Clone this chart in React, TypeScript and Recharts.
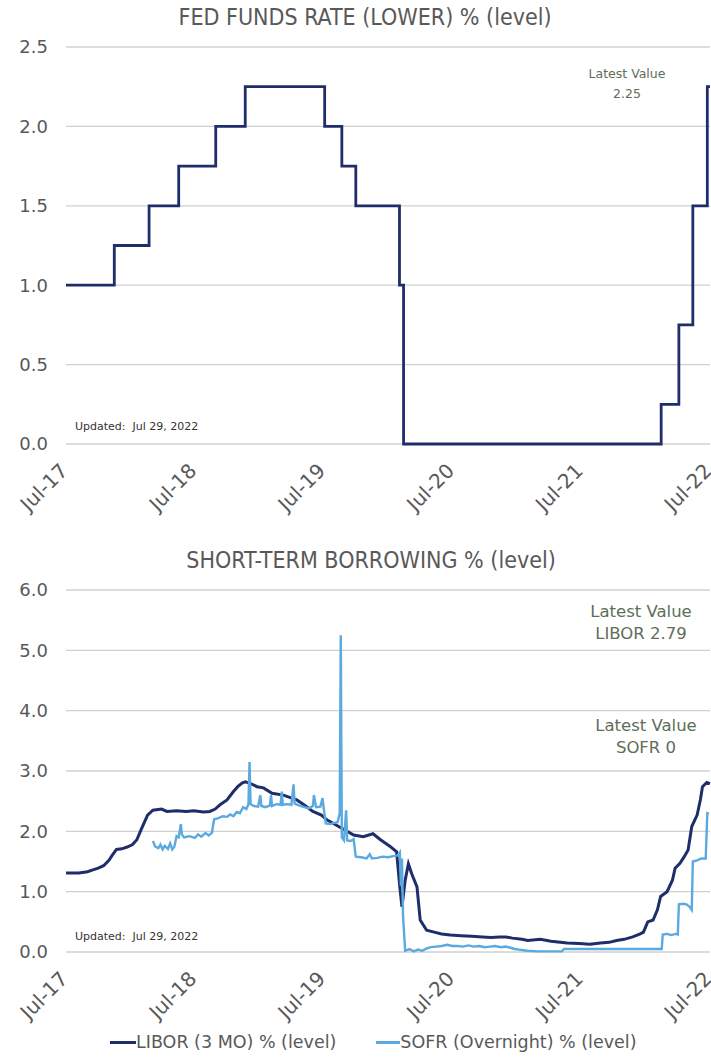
import React from "react";
import { CartesianGrid, Line, LineChart, XAxis, YAxis } from "recharts";

// x = months since Jul 29, 2017
const yearTicks = [0, 12, 24, 36, 48, 60];
const yearLabels = ["Jul-17", "Jul-18", "Jul-19", "Jul-20", "Jul-21", "Jul-22"];

const fedTicks = [0, 0.5, 1, 1.5, 2, 2.5];
const borrowTicks = [0, 1, 2, 3, 4, 5, 6];

const fedFunds: [number, number][] = [
  [0, 1.0], [4.5, 1.25], [7.74, 1.5], [10.5, 1.75], [13.95, 2.0], [16.7, 2.25],
  [24.1, 2.0], [25.7, 1.75], [27.0, 1.5], [31.07, 1.0], [31.45, 0.0],
  [55.45, 0.25], [57.1, 0.75], [58.4, 1.5], [59.75, 2.25], [60, 2.25],
];

const libor: [number, number][] = [
  [0, 1.31], [1.2, 1.31], [2, 1.33], [2.5, 1.36], [3, 1.39], [3.5, 1.43], [4, 1.52],
  [4.3, 1.6], [4.7, 1.7], [5.2, 1.71], [5.7, 1.74], [6.2, 1.78], [6.6, 1.86],
  [7.05, 2.05], [7.6, 2.27], [8.1, 2.35], [8.9, 2.37], [9.4, 2.33], [10.3, 2.34],
  [11.2, 2.33], [11.9, 2.34], [12.8, 2.32], [13.4, 2.33], [13.9, 2.37], [14.35, 2.44],
  [15, 2.52], [15.6, 2.66], [16.0, 2.74], [16.4, 2.8], [16.7, 2.82], [17.2, 2.79],
  [17.8, 2.74], [18.4, 2.72], [19.2, 2.63], [20.25, 2.6], [21.5, 2.52], [22.1, 2.45],
  [23, 2.33], [23.8, 2.27], [24.3, 2.19], [25.2, 2.1], [26, 2.02], [26.8, 1.94],
  [27.7, 1.91], [28.6, 1.96], [29.3, 1.86], [30.2, 1.75], [30.8, 1.66], [31.1, 1.08],
  [31.3, 0.75], [31.6, 1.19], [31.9, 1.46], [32.2, 1.3], [32.7, 1.08], [33.0, 0.53],
  [33.6, 0.36], [34.3, 0.33], [35.0, 0.3], [35.8, 0.28], [36.8, 0.27], [37.8, 0.26],
  [38.8, 0.25], [39.6, 0.24], [40.4, 0.25], [41.0, 0.25], [41.6, 0.23], [42.5, 0.21],
  [43.0, 0.19], [44.2, 0.21], [45.2, 0.18], [46.7, 0.15], [47.8, 0.14], [48.8, 0.13],
  [49.8, 0.15], [50.6, 0.16], [51.3, 0.19], [52.0, 0.21], [52.8, 0.25], [53.5, 0.3],
  [53.8, 0.33], [54.2, 0.5], [54.7, 0.53], [55.1, 0.7], [55.4, 0.92], [56.0, 1.0],
  [56.5, 1.19], [56.75, 1.39], [57.2, 1.47], [57.6, 1.58], [57.96, 1.69], [58.3, 2.08],
  [58.8, 2.27], [59.1, 2.52], [59.3, 2.74], [59.7, 2.81], [60, 2.79],
];

const sofr: [number, number][] = [
  [8.1, 1.84], [8.3, 1.75], [8.6, 1.72], [8.8, 1.78], [9.0, 1.7], [9.2, 1.76],
  [9.5, 1.71], [9.7, 1.8], [9.9, 1.7], [10.1, 1.75], [10.3, 1.92], [10.5, 1.9],
  [10.7, 2.12], [10.8, 1.95], [11.0, 1.9], [11.5, 1.92], [12, 1.89], [12.3, 1.95],
  [12.6, 1.91], [13.0, 1.97], [13.3, 1.93], [13.6, 1.98], [13.8, 2.2], [14.2, 2.22],
  [14.6, 2.25], [15.0, 2.24], [15.3, 2.28], [15.6, 2.25], [15.9, 2.32], [16.2, 2.3],
  [16.5, 2.4], [16.8, 2.37], [17.0, 2.45], [17.1, 3.15], [17.2, 2.45], [17.5, 2.42],
  [17.9, 2.41], [18.1, 2.6], [18.2, 2.42], [18.6, 2.4], [19.0, 2.43], [19.1, 2.6],
  [19.2, 2.42], [19.6, 2.45], [20.0, 2.44], [20.1, 2.66], [20.2, 2.44], [20.6, 2.45],
  [21.0, 2.44], [21.2, 2.78], [21.3, 2.46], [21.7, 2.43], [22.2, 2.4], [22.6, 2.38],
  [23.0, 2.42], [23.1, 2.6], [23.3, 2.4], [23.7, 2.41], [23.9, 2.55], [24.0, 2.4],
  [24.2, 2.13], [24.6, 2.12], [25.0, 2.14], [25.3, 2.15], [25.5, 2.3], [25.6, 5.25],
  [25.7, 1.9], [25.9, 1.85], [26.1, 2.35], [26.2, 1.85], [26.5, 1.84], [26.8, 1.87],
  [27.0, 1.58], [27.5, 1.57], [28.0, 1.55], [28.3, 1.62], [28.5, 1.55], [29.0, 1.56],
  [29.5, 1.58], [30.0, 1.57], [30.5, 1.59], [30.9, 1.6], [31.1, 1.65], [31.2, 1.1],
  [31.3, 1.55], [31.4, 0.6], [31.6, 0.02], [32.0, 0.05], [32.4, 0.01], [32.8, 0.04],
  [33.2, 0.02], [33.6, 0.06], [34.0, 0.08], [34.5, 0.09], [35.0, 0.1], [35.5, 0.12],
  [36.0, 0.1], [36.5, 0.1], [37.0, 0.09], [37.5, 0.11], [38.0, 0.09], [38.5, 0.1],
  [39.0, 0.08], [39.5, 0.09], [40.0, 0.1], [40.5, 0.08], [41.0, 0.09], [41.4, 0.07],
  [41.8, 0.05], [42.2, 0.04], [42.6, 0.03], [43.0, 0.02], [44.0, 0.01], [45.0, 0.01],
  [46.2, 0.01], [46.4, 0.05], [48, 0.05], [50, 0.05], [52, 0.05], [54, 0.05],
  [55.5, 0.05], [55.6, 0.29], [56.0, 0.3], [56.4, 0.28], [56.8, 0.3], [57.0, 0.29],
  [57.1, 0.79], [57.5, 0.8], [57.8, 0.79], [58.1, 0.75], [58.3, 0.7], [58.4, 1.5],
  [58.8, 1.52], [59.2, 1.55], [59.6, 1.55], [59.75, 2.3], [59.9, 2.29],
];

const FONT = "Verdana, 'DejaVu Sans', sans-serif";
const TITLE_FONT = "'DejaVu Sans Condensed', 'Liberation Sans Narrow', sans-serif";
const NAVY = "#1f2d6b";
const SKY = "#5aaae0";
const GREY = "#595959";
const NOTE = "#5e6e58";
const GRID = "#d0d0d0";

const fedRows = fedFunds.map(([m, v]) => ({ m, rate: v }));

const borrowRows = (() => {
  const map = new Map<number, { m: number; libor: number | null; sofr: number | null }>();
  for (const [m, v] of libor) {
    const row = map.get(m) ?? { m, libor: null, sofr: null };
    row.libor = v;
    map.set(m, row);
  }
  for (const [m, v] of sofr) {
    const row = map.get(m) ?? { m, libor: null, sofr: null };
    row.sofr = v;
    map.set(m, row);
  }
  return [...map.values()].sort((a, b) => a.m - b.m);
})();

function DateTick(props: any) {
  const { x, y, payload } = props;
  const label = yearLabels[yearTicks.indexOf(payload.value)];
  const ax = x + 3;
  const ay = y + 28;
  return (
    <text
      x={ax}
      y={ay}
      transform={`rotate(-45, ${ax}, ${ay})`}
      textAnchor="end"
      fill={GREY}
      fontSize={20}
      fontFamily={FONT}
    >
      {label}
    </text>
  );
}

const abs = (left: number, top: number): React.CSSProperties => ({
  position: "absolute",
  left,
  top,
});

export default function App() {
  return (
    <div
      style={{
        position: "absolute",
        left: 0,
        top: 0,
        width: 711,
        height: 1057,
        background: "#fff",
        overflow: "hidden",
        fontFamily: FONT,
      }}
    >
      {/* Fed funds */}
      <div style={{ ...abs(165, 4), width: 400, textAlign: "center", fontFamily: TITLE_FONT, fontSize: 23, color: GREY, lineHeight: "26px" }}>
        FED FUNDS RATE (LOWER) % (level)
      </div>
      <div style={abs(0, 0)}>
        <LineChart width={711} height={530} data={fedRows} margin={{ top: 47, right: 1, left: 0, bottom: 0 }}>
          <CartesianGrid vertical={false} stroke={GRID} strokeWidth={1.3} />
          <XAxis
            dataKey="m"
            type="number"
            domain={[0, 60]}
            ticks={yearTicks}
            axisLine={false}
            tickLine={false}
            tickSize={0}
            tickMargin={0}
            height={86}
            tick={<DateTick />}
            interval={0}
          />
          <YAxis
            type="number"
            domain={[0, 2.5]}
            ticks={fedTicks}
            width={66}
            axisLine={false}
            tickLine={false}
            tickSize={0}
            tickMargin={18}
            tickFormatter={(v: number) => v.toFixed(1)}
            tick={{ fill: GREY, fontSize: 18, fontFamily: FONT }}
          />
          <Line
            type="stepAfter"
            dataKey="rate"
            stroke={NAVY}
            strokeWidth={2.8}
            dot={false}
            isAnimationActive={false}
          />
        </LineChart>
      </div>
      <div style={{ ...abs(567, 64), width: 120, textAlign: "center", fontSize: 12.5, color: NOTE, lineHeight: "20px" }}>
        Latest Value
        <br />
        2.25
      </div>
      <div style={{ ...abs(75, 420), fontSize: 11, color: "#333", whiteSpace: "pre" }}>Updated:  Jul 29, 2022</div>

      {/* Short-term borrowing */}
      <div style={{ ...abs(171, 547), width: 400, textAlign: "center", fontFamily: TITLE_FONT, fontSize: 23, color: GREY, lineHeight: "26px" }}>
        SHORT-TERM BORROWING % (level)
      </div>
      <div style={abs(0, 530)}>
        <LineChart width={711} height={527} data={borrowRows} margin={{ top: 60, right: 1, left: 0, bottom: 0 }}>
          <CartesianGrid vertical={false} stroke={GRID} strokeWidth={1.3} />
          <XAxis
            dataKey="m"
            type="number"
            domain={[0, 60]}
            ticks={yearTicks}
            axisLine={false}
            tickLine={false}
            tickSize={0}
            tickMargin={0}
            height={105}
            tick={<DateTick />}
            interval={0}
          />
          <YAxis
            type="number"
            domain={[0, 6]}
            ticks={borrowTicks}
            width={66}
            axisLine={false}
            tickLine={false}
            tickSize={0}
            tickMargin={18}
            tickFormatter={(v: number) => v.toFixed(1)}
            tick={{ fill: GREY, fontSize: 18, fontFamily: FONT }}
          />
          <Line
            type="linear"
            dataKey="libor"
            stroke={NAVY}
            strokeWidth={3}
            dot={false}
            connectNulls
            isAnimationActive={false}
          />
          <Line
            type="linear"
            dataKey="sofr"
            stroke={SKY}
            strokeWidth={2.4}
            dot={false}
            connectNulls
            isAnimationActive={false}
          />
        </LineChart>
      </div>
      <div style={{ ...abs(571, 601), width: 140, textAlign: "center", fontSize: 16.5, color: NOTE, lineHeight: "22px" }}>
        Latest Value
        <br />
        LIBOR 2.79
      </div>
      <div style={{ ...abs(576, 715), width: 140, textAlign: "center", fontSize: 16.5, color: NOTE, lineHeight: "22px" }}>
        Latest Value
        <br />
        SOFR 0
      </div>
      <div style={{ ...abs(75, 930), fontSize: 11, color: "#333", whiteSpace: "pre" }}>Updated:  Jul 29, 2022</div>

      {/* legend */}
      <div style={{ ...abs(110, 1032), display: "flex", alignItems: "center", fontSize: 17.5, color: GREY, whiteSpace: "nowrap" }}>
        <span style={{ display: "inline-block", width: 26, height: 3, background: NAVY }} />
        <span style={{ marginRight: 40 }}>LIBOR (3 MO) % (level)</span>
        <span style={{ display: "inline-block", width: 24, height: 3, background: SKY }} />
        <span>SOFR (Overnight) % (level)</span>
      </div>
    </div>
  );
}
